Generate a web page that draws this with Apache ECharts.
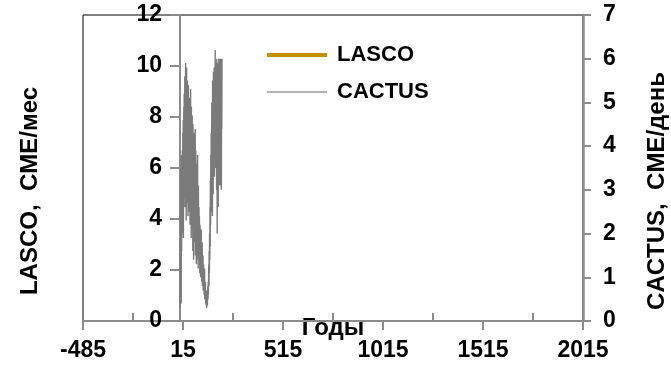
<!DOCTYPE html>
<html>
<head>
<meta charset="utf-8">
<script src="https://cdn.jsdelivr.net/npm/echarts@6/dist/echarts.min.js"></script>
<style>
  html, body { margin: 0; padding: 0; background: #fff; }
  #chart { width: 671px; height: 370px; }
</style>
</head>
<body>
<div id="chart"></div>
<script>
// X axis: month number, labelled every 500 from -485 to 2015
const xTickValues = [-485, 15, 515, 1015, 1515, 2015];
const xMinorTicks = [-235, 265, 765, 1265, 1765];
const xRange = [-485, 2015];

// Left axis (LASCO, CME per month) and right axis (CACTUS, CME per day)
const leftTicks = { min: 0, max: 12, step: 2 };
const rightTicks = { min: 0, max: 7, step: 1 };

// LASCO monthly rate: no points shown in this plot
const lascoValues = [];

// CACTUS daily CME rate, one value per month starting at month 0
const cactusValues = [
  0.3, 1.8, 0.6, 3.5, 1.1, 2.6, 0.4, 3.8, 1.6, 2.9, 3.4, 2.2,
  3.9, 2.0, 4.3, 2.5, 4.6, 1.9, 3.7, 4.9, 2.8, 5.2, 3.1, 4.4,
  5.6, 2.6, 4.8, 3.4, 5.9, 3.0, 5.1, 2.3, 4.7, 5.8, 3.2, 4.9,
  2.7, 5.5, 3.6, 5.2, 2.4, 4.6, 5.4, 3.0, 4.1, 5.0, 2.5, 4.8,
  3.3, 5.1, 2.2, 4.5, 3.9, 5.3, 2.8, 4.2, 1.9, 4.9, 3.5, 4.4,
  2.1, 4.7, 3.2, 4.0, 1.6, 4.5, 2.9, 3.7, 1.4, 4.3, 2.6, 3.5,
  4.1, 1.8, 3.3, 2.4, 4.4, 1.5, 3.0, 3.9, 2.1, 2.8, 1.3, 3.6,
  2.3, 3.2, 1.4, 2.7, 3.8, 1.7, 2.5, 1.2, 3.1, 2.0, 1.6, 2.6,
  1.5, 2.4, 1.9, 1.1, 2.2, 1.7, 2.0, 1.0, 1.8, 1.4, 2.1, 1.2,
  1.6, 0.9, 1.4, 1.8, 0.8, 1.3, 1.0, 1.5, 0.7, 1.1, 1.3, 0.8,
  1.0, 0.6, 0.9, 1.2, 0.5, 0.8, 0.6, 0.9, 0.4, 0.7, 0.5, 0.35,
  0.6, 0.3, 0.5, 0.4, 0.7, 0.35, 0.6, 0.8, 0.5, 0.9, 0.6, 1.0,
  1.3, 0.8, 1.6, 1.1, 2.0, 1.4, 2.6, 1.7, 3.2, 2.2, 3.8, 2.5,
  4.3, 2.8, 3.6, 5.0, 3.1, 4.6, 2.4, 5.5, 3.4, 4.9, 2.9, 5.7,
  3.6, 5.2, 4.0, 5.8, 3.3, 4.7, 5.5, 3.9, 6.2, 4.4, 5.1, 3.5,
  5.9, 4.2, 5.6, 3.0, 6.0, 4.8, 2.0, 5.4, 3.7, 5.9, 4.5, 2.6,
  5.7, 3.8, 6.0, 4.3, 3.1, 5.6, 4.9, 6.0, 3.4, 5.8, 4.6, 3.1,
  6.0, 4.1, 5.9, 3.0, 5.7, 4.4, 6.0
];

const FONT = '"Liberation Sans", Arial, sans-serif';
const AXIS_GRAY = '#8c8c8c';
const LASCO_COLOR = '#bf9000';
const CACTUS_COLOR = '#7a7a7a';

const GRID = { left: 83, top: 15, width: 500, height: 306 };
// the left value axis crosses the time axis at month 0
const leftAxisShift = -GRID.width * (0 - xRange[0]) / (xRange[1] - xRange[0]);

const toPairs = vals => vals.map((v, i) => [i, v]);
const boldText = (size) => ({ fontFamily: FONT, fontSize: size, fontWeight: 'bold', color: '#000' });

const chart = echarts.init(document.getElementById('chart'), null, { renderer: 'canvas' });

chart.setOption({
  animation: false,
  backgroundColor: '#fff',
  textStyle: { fontFamily: FONT },
  grid: {
    left: GRID.left, top: GRID.top, width: GRID.width, height: GRID.height,
    containLabel: false,
    outerBoundsMode: 'none',
    show: true, borderColor: '#000', borderWidth: 1, backgroundColor: 'transparent'
  },
  legend: {
    orient: 'vertical',
    left: 262, top: 39,
    itemWidth: 60, itemHeight: 14, itemGap: 15,
    symbolKeepAspect: true,
    textStyle: Object.assign(boldText(22), { lineHeight: 22, padding: [0, 0, 0, 5] }),
    data: [
      { name: 'LASCO', icon: 'path://M0,0L60,0L60,4L0,4Z', itemStyle: { color: LASCO_COLOR } },
      { name: 'CACTUS', icon: 'path://M0,0L60,0L60,1.5L0,1.5Z', itemStyle: { color: '#999999' } }
    ]
  },
  xAxis: [
    {
      type: 'value',
      min: xRange[0], max: xRange[1],
      position: 'bottom',
      name: 'Годы',
      nameLocation: 'middle',
      nameGap: -5,
      nameMoveOverlap: false,
      nameTextStyle: boldText(24),
      axisLine: { show: true, onZero: false, lineStyle: { color: AXIS_GRAY, width: 2 } },
      axisTick: { show: true, inside: false, length: 9, customValues: xTickValues, lineStyle: { color: AXIS_GRAY, width: 2 } },
      axisLabel: Object.assign(boldText(23), {
        customValues: xTickValues, margin: 18,
        formatter: v => String(v)
      }),
      splitLine: { show: false }
    },
    {
      type: 'value',
      min: xRange[0], max: xRange[1],
      position: 'bottom',
      axisLine: { show: false, onZero: false },
      axisTick: { show: true, inside: true, length: 8, customValues: xMinorTicks, lineStyle: { color: AXIS_GRAY, width: 2 } },
      axisLabel: { show: false },
      splitLine: { show: false }
    }
  ],
  yAxis: [
    {
      type: 'value',
      min: leftTicks.min, max: leftTicks.max, interval: leftTicks.step,
      position: 'left',
      offset: leftAxisShift,
      name: 'LASCO,  CME/мес',
      nameLocation: 'middle',
      nameRotate: 90,
      nameGap: 138,
      nameMoveOverlap: false,
      nameTextStyle: Object.assign(boldText(24), { padding: [0, 46, 0, 0] }),
      axisLine: { show: true, onZero: false, lineStyle: { color: AXIS_GRAY, width: 2 } },
      axisTick: { show: true, inside: false, length: 10, lineStyle: { color: AXIS_GRAY, width: 2 } },
      axisLabel: Object.assign(boldText(23), { margin: 18 }),
      splitLine: { show: false }
    },
    {
      type: 'value',
      min: rightTicks.min, max: rightTicks.max, interval: rightTicks.step,
      position: 'right',
      name: 'CACTUS,  CME/день',
      nameLocation: 'middle',
      nameRotate: 90,
      nameGap: 62,
      nameMoveOverlap: false,
      nameTextStyle: Object.assign(boldText(24), { padding: [0, 46, 0, 0] }),
      axisLine: { show: true, onZero: false, lineStyle: { color: AXIS_GRAY, width: 2.5 } },
      axisTick: { show: true, inside: false, length: 8, lineStyle: { color: AXIS_GRAY, width: 2 } },
      axisLabel: Object.assign(boldText(23), { margin: 20 }),
      splitLine: { show: false }
    }
  ],
  series: [
    {
      name: 'LASCO',
      type: 'line',
      xAxisIndex: 0,
      yAxisIndex: 0,
      data: toPairs(lascoValues),
      symbol: 'none',
      color: LASCO_COLOR,
      lineStyle: { color: LASCO_COLOR, width: 4 }
    },
    {
      name: 'CACTUS',
      type: 'line',
      xAxisIndex: 0,
      yAxisIndex: 1,
      data: toPairs(cactusValues),
      symbol: 'none',
      color: CACTUS_COLOR,
      lineStyle: { color: CACTUS_COLOR, width: 1.4 }
    }
  ]
});
</script>
</body>
</html>
